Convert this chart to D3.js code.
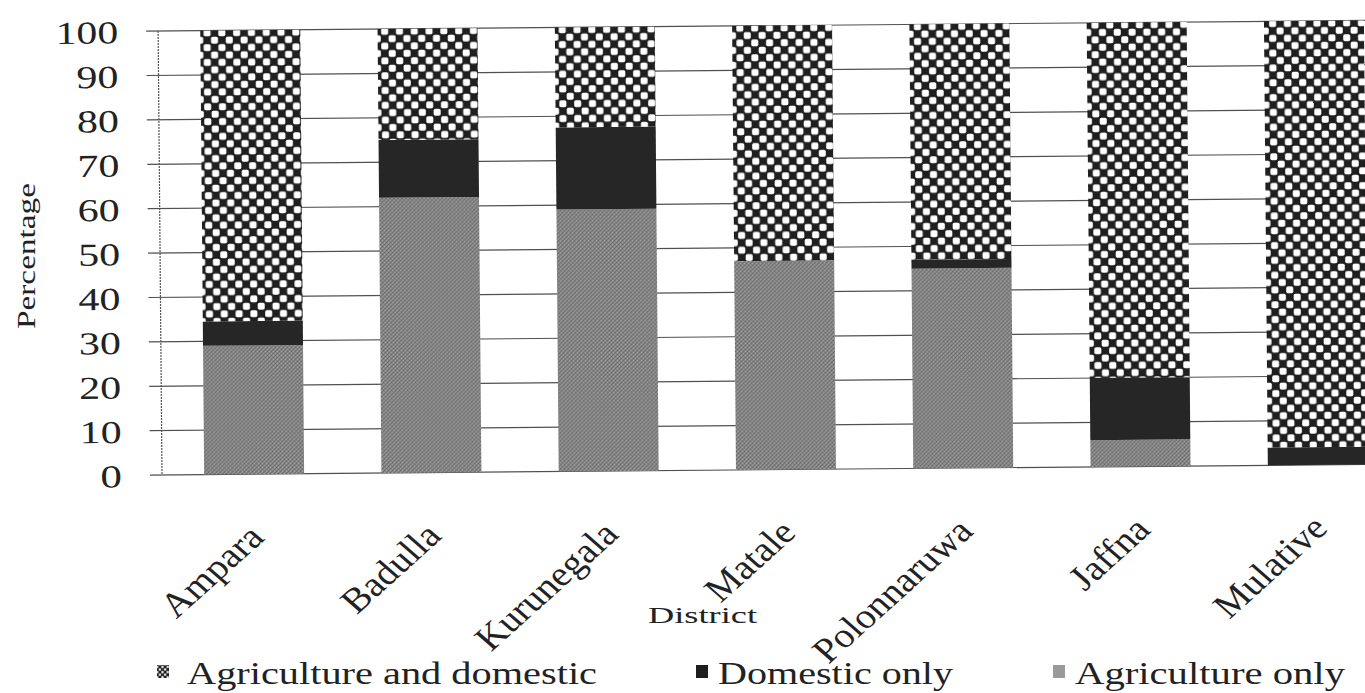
<!DOCTYPE html>
<html>
<head>
<meta charset="utf-8">
<script src="https://cdn.jsdelivr.net/npm/d3@7/dist/d3.min.js"></script>
<style>
  html, body { margin: 0; padding: 0; background: #fff; }
  svg text { font-family: "Liberation Serif", "Times New Roman", Times, "DejaVu Serif", serif; fill: #222; }
</style>
</head>
<body>
<script>
// Water use by district (% of households)
const categories = ["Ampara", "Badulla", "Kurunegala", "Matale", "Polonnaruwa", "Jaffna", "Mulative"];
const agricultureOnly        = [29, 62, 59, 47, 45, 6, 0];
const domesticOnly           = [5.5, 13, 18.5, 0, 2, 14, 4];
const agricultureAndDomestic = [65.5, 25, 22.5, 53, 53, 80, 96];
const yTicks = [0, 10, 20, 30, 40, 50, 60, 70, 80, 90, 100];
const seriesNames = ["Agriculture only", "Domestic only", "Agriculture and domestic"];
const legendOrder = ["Agriculture and domestic", "Domestic only", "Agriculture only"];

const W = 1365, H = 693;
const svg = d3.select("body").append("svg").attr("width", W).attr("height", H);
svg.append("rect").attr("width", W).attr("height", H).attr("fill", "#fff");

// fills
const defs = svg.append("defs");
function checker(id, s, r) {
  const p = defs.append("pattern").attr("id", id).attr("patternUnits", "userSpaceOnUse")
    .attr("width", 2 * s).attr("height", 2 * s);
  p.append("rect").attr("width", 2 * s).attr("height", 2 * s).attr("fill", "#1f1f1f");
  p.append("rect").attr("x", 0.2).attr("y", 0.2).attr("width", s - 0.4).attr("height", s - 0.4)
    .attr("rx", r).attr("fill", "#fff");
  p.append("rect").attr("x", s + 0.2).attr("y", s + 0.2).attr("width", s - 0.4).attr("height", s - 0.4)
    .attr("rx", r).attr("fill", "#fff");
}
checker("chk", 7.4, 1.8);
checker("chkSmall", 2.6, 0.4);

const grain = defs.append("pattern").attr("id", "grain").attr("patternUnits", "userSpaceOnUse")
  .attr("width", 4).attr("height", 4);
grain.append("rect").attr("width", 4).attr("height", 4).attr("fill", "#868686");
[[0,0,"#606060"],[2,2,"#646464"],[2,0,"#a8a8a8"],[0,2,"#a0a0a0"],[1,3,"#727272"],[3,1,"#747474"]]
  .forEach(([x, y, c]) => grain.append("rect").attr("x", x).attr("y", y).attr("width", 1).attr("height", 1).attr("fill", c));

const fills = {
  "Agriculture only": "url(#grain)",
  "Domestic only": "#262626",
  "Agriculture and domestic": "url(#chk)"
};

// scales
const y = d3.scaleLinear().domain([0, 100]).range([475, 31]);
const x = d3.scaleBand().domain(categories).range([165.5, 1406.5])
  .paddingInner(0.436).paddingOuter(0.218);

const chart = svg.append("g").attr("transform", "rotate(-0.5,160,475)");

// gridlines
chart.append("g").selectAll("line").data(yTicks).join("line")
  .attr("x1", 150).attr("x2", 1420)
  .attr("y1", d => y(d)).attr("y2", d => y(d))
  .attr("stroke", "#505050").attr("stroke-width", 1.2);

// vertical axis line
chart.append("line").attr("x1", 162).attr("x2", 162).attr("y1", y(100)).attr("y2", y(0))
  .attr("stroke", "#555").attr("stroke-width", 1.2).attr("stroke-dasharray", "2,1");

// stacked bars
const rows = categories.map((c, i) => ({
  district: c,
  "Agriculture only": agricultureOnly[i],
  "Domestic only": domesticOnly[i],
  "Agriculture and domestic": agricultureAndDomestic[i]
}));
const stacked = d3.stack().keys(seriesNames)(rows);
chart.append("g").selectAll("g").data(stacked).join("g")
  .attr("fill", d => fills[d.key])
  .selectAll("rect").data(d => d).join("rect")
  .attr("x", d => x(d.data.district))
  .attr("width", x.bandwidth())
  .attr("y", d => y(d[1]))
  .attr("height", d => Math.max(0, y(d[0]) - y(d[1])));

// y axis labels (narrow serif digits)
const yAxis = chart.append("g").attr("transform", "translate(122,0)")
  .call(d3.axisLeft(y).tickValues(yTicks).tickSize(0).tickPadding(0));
yAxis.select(".domain").remove();
yAxis.attr("font-family", null);
yAxis.selectAll("text")
  .attr("font-size", 32).attr("fill", "#222")
  .attr("x", 0).attr("dy", "0.36em")
  .attr("textLength", d => String(d).length * 20.5 + 1)
  .attr("lengthAdjust", "spacingAndGlyphs");

// x axis labels
chart.append("g").selectAll("text").data(categories).join("text")
  .attr("transform", d => `translate(${x(d) + x.bandwidth() / 2 + 11},540) scale(1.13,1) rotate(-45)`)
  .attr("text-anchor", "end")
  .attr("font-size", 35)
  .text(d => d);

// axis titles
svg.append("text")
  .attr("transform", "translate(35,256) rotate(-90)")
  .attr("text-anchor", "middle")
  .attr("font-size", 25)
  .attr("textLength", 146).attr("lengthAdjust", "spacingAndGlyphs")
  .text("Percentage");

svg.append("text")
  .attr("x", 648).attr("y", 623)
  .attr("font-size", 24)
  .attr("textLength", 109).attr("lengthAdjust", "spacingAndGlyphs")
  .text("District");

// legend
const legendPos = {
  "Agriculture and domestic": { mx: 157, tx: 187, len: 410, fill: "url(#chkSmall)" },
  "Domestic only": { mx: 696, tx: 718, len: 235, fill: "#1e1e1e" },
  "Agriculture only": { mx: 1053, tx: 1075, len: 270, fill: "#9a9a9a" }
};
const legend = svg.append("g").selectAll("g").data(legendOrder).join("g");
legend.append("rect")
  .attr("x", d => legendPos[d].mx).attr("y", 665)
  .attr("width", 12).attr("height", 13)
  .attr("fill", d => legendPos[d].fill);
legend.append("text")
  .attr("x", d => legendPos[d].tx).attr("y", 684)
  .attr("font-size", 32)
  .attr("textLength", d => legendPos[d].len).attr("lengthAdjust", "spacingAndGlyphs")
  .text(d => d);
</script>
</body>
</html>
